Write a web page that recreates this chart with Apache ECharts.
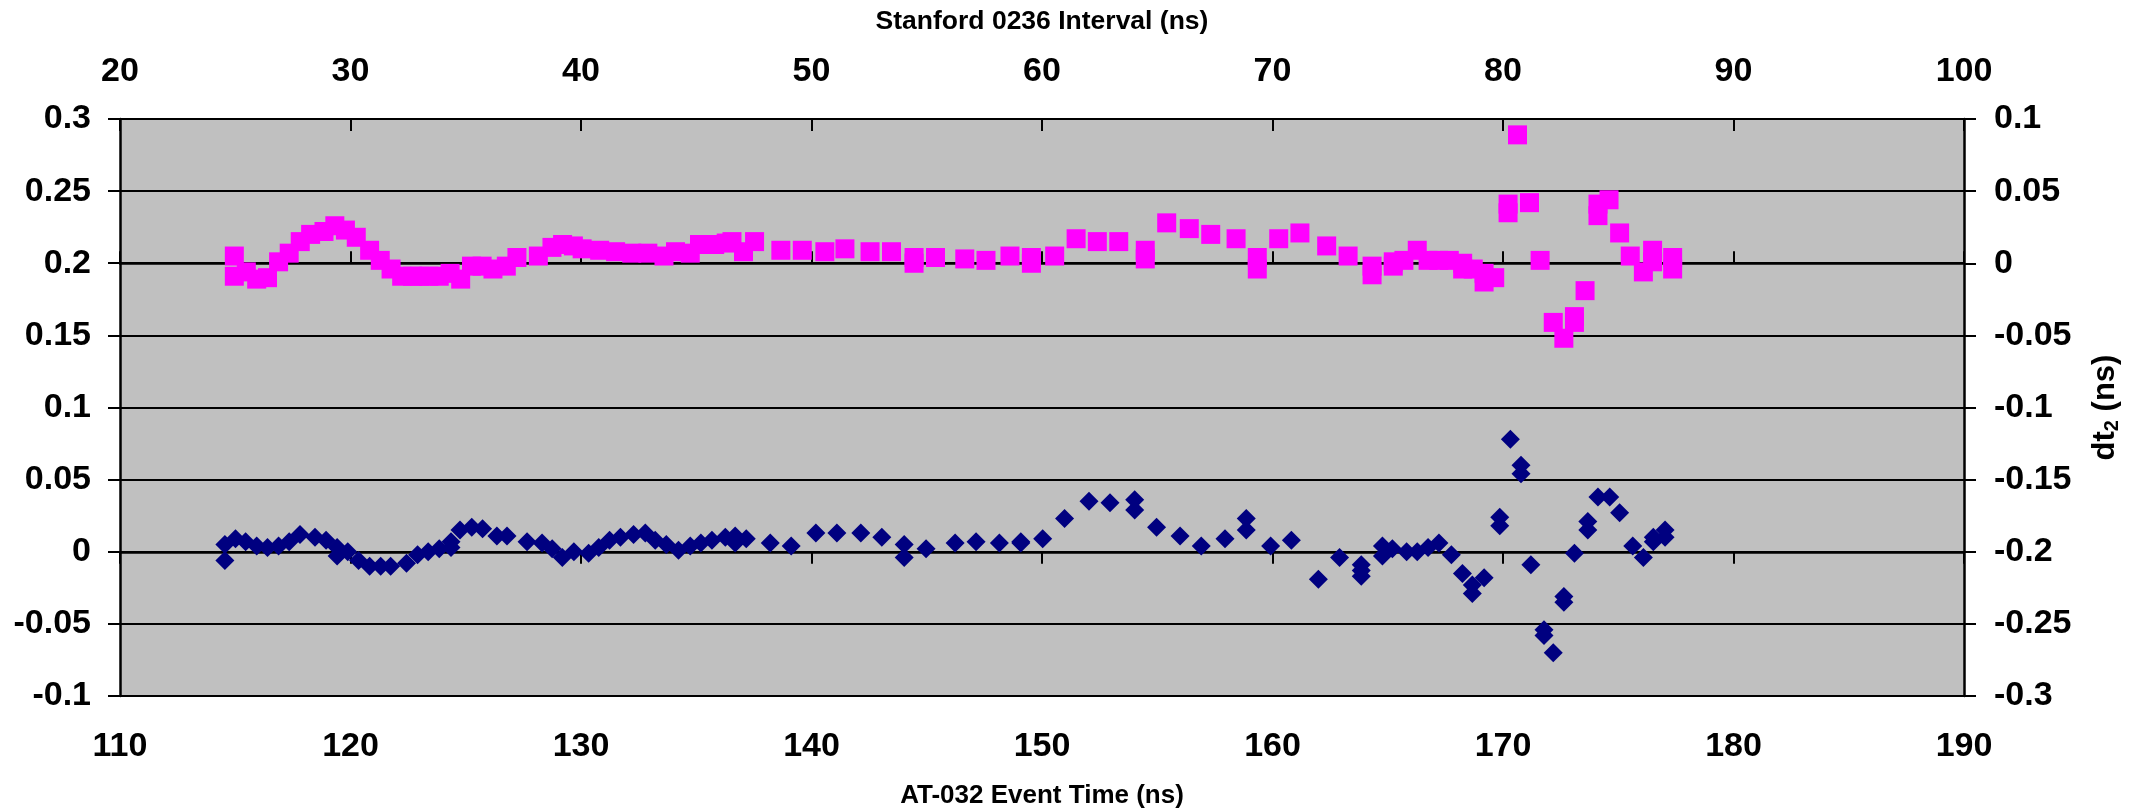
<!DOCTYPE html>
<html>
<head>
<meta charset="utf-8">
<script src="https://cdn.jsdelivr.net/npm/echarts@6/dist/echarts.min.js"></script>
<style>
html,body{margin:0;padding:0;background:#ffffff;}
#chart{width:2136px;height:812px;}
</style>
</head>
<body>
<div id="chart"></div>
<script>
// ---- Data ----
// Blue diamonds: AT-032 Event Time (ns) on bottom axis, left axis values
const blueX = [114.55,114.55,115.01,115.45,115.93,116.40,116.88,117.34,117.81,118.46,118.94,119.42,119.42,119.88,120.35,120.83,121.31,121.74,122.43,122.91,123.37,123.85,124.36,124.36,124.75,125.26,125.73,126.35,126.79,127.66,128.31,128.75,129.19,129.69,
130.33,130.77,131.24,131.71,132.28,132.79,133.22,133.70,134.23,134.74,135.20,135.68,136.26,136.69,136.69,137.17,138.21,139.12,140.19,141.10,142.14,143.05,144.02,144.02,144.97,146.23,147.14,148.15,149.08,149.08,150.03,
150.98,152.04,152.95,154.02,154.02,154.97,155.99,156.91,157.94,158.86,158.86,159.92,160.82,161.99,162.91,163.85,163.85,163.85,164.77,164.77,165.20,165.82,166.28,166.75,167.22,167.76,168.24,168.67,168.67,169.18,169.86,169.86,
170.32,170.78,170.78,171.21,171.78,171.78,172.18,172.64,172.64,173.10,173.68,173.68,174.12,174.63,175.06,175.63,176.09,176.52,176.52,177.03,177.03];
const blueY = [0.005,-0.006,0.009,0.007,0.004,0.003,0.004,0.007,0.012,0.010,0.008,0.003,-0.003,0.000,-0.006,-0.010,-0.010,-0.010,-0.008,-0.002,0.000,0.002,0.007,0.003,0.015,0.017,0.016,0.011,0.011,0.007,0.006,0.002,-0.004,0.000,
-0.001,0.003,0.008,0.010,0.012,0.013,0.008,0.005,0.001,0.004,0.006,0.008,0.010,0.011,0.006,0.009,0.006,0.004,0.013,0.013,0.013,0.010,0.005,-0.004,0.002,0.006,0.007,0.006,0.007,0.006,0.009,
0.023,0.035,0.034,0.036,0.029,0.017,0.011,0.004,0.009,0.023,0.015,0.004,0.008,-0.019,-0.004,-0.009,-0.013,-0.017,0.004,-0.003,0.002,0.000,0.000,0.003,0.006,-0.002,-0.015,-0.023,-0.029,-0.018,0.024,0.018,
0.078,0.060,0.054,-0.009,-0.054,-0.058,-0.070,-0.031,-0.035,-0.001,0.021,0.015,0.038,0.038,0.027,0.004,-0.004,0.010,0.007,0.015,0.010];

// Magenta squares: Stanford 0236 Interval (ns) on top axis, dt2 (ns) on right axis
const magX = [24.96,24.96,25.48,25.93,26.40,26.88,27.34,27.82,28.27,28.85,29.32,29.78,30.25,30.83,31.29,31.76,32.22,32.69,33.01,33.40,33.85,34.32,34.78,35.25,35.71,36.18,36.76,37.22,38.15,38.74,39.20,39.67,
40.05,40.81,41.50,42.20,42.90,43.60,44.10,44.74,45.14,45.80,46.30,46.55,47.05,47.53,48.67,49.60,50.58,51.45,52.54,53.47,54.45,54.45,55.38,56.65,57.57,58.61,59.54,59.54,
60.55,61.48,62.40,63.33,64.48,64.48,65.41,66.39,67.32,68.42,69.34,69.34,70.27,71.19,72.35,73.28,74.32,74.32,75.24,75.24,75.70,76.28,76.75,77.21,77.67,78.25,78.25,78.71,79.18,79.18,79.64,
80.22,80.22,80.63,81.15,81.61,82.18,82.64,83.10,83.10,83.56,84.12,84.12,84.60,85.06,85.52,86.09,86.49,86.49,87.36,87.36];
const magY = [0.005,-0.009,-0.006,-0.011,-0.010,0.001,0.007,0.015,0.020,0.022,0.026,0.023,0.018,0.009,0.002,-0.004,-0.009,-0.009,-0.009,-0.009,-0.009,-0.007,-0.011,-0.002,-0.002,-0.004,-0.002,0.004,0.005,0.011,0.013,0.012,
0.010,0.009,0.008,0.007,0.007,0.005,0.008,0.007,0.013,0.013,0.014,0.015,0.008,0.015,0.009,0.009,0.008,0.010,0.008,0.008,0.004,0.000,0.004,0.003,0.002,0.005,0.004,0.000,
0.005,0.017,0.015,0.015,0.009,0.003,0.028,0.024,0.020,0.017,0.004,-0.004,0.017,0.021,0.012,0.005,-0.002,-0.008,0.001,-0.002,0.002,0.009,0.002,0.002,0.002,0.000,-0.004,-0.004,-0.007,-0.013,-0.010,
0.041,0.035,0.089,0.042,0.002,-0.041,-0.052,-0.037,-0.041,-0.019,0.041,0.033,0.044,0.021,0.005,-0.006,0.009,0.001,0.004,-0.004];

// Axis ranges / tick labels
const bottomAxis = {min: 110, max: 190, interval: 10};
const topAxis = {min: 20, max: 100, interval: 10};
const leftAxis = {min: -0.1, max: 0.3, interval: 0.05};
const rightAxis = {min: -0.3, max: 0.1, interval: 0.05};
const leftTickLabels = ['-0.1','-0.05','0','0.05','0.1','0.15','0.2','0.25','0.3'];
const rightTickLabels = ['-0.3','-0.25','-0.2','-0.15','-0.1','-0.05','0','0.05','0.1'];

const bottomTitle = 'AT-032 Event Time (ns)';
const topTitle = 'Stanford 0236 Interval (ns)';

// ---- Chart ----
const FONT = '"Liberation Sans", Arial, sans-serif';
const chart = echarts.init(document.getElementById('chart'), null, {renderer: 'canvas'});

const tickLabelStyle = {fontFamily: FONT, fontSize: 34, fontWeight: 'bold', color: '#000'};
const axisLineStyle = {show: true, lineStyle: {color: '#000', width: 2.5}};
const tickStyle = {show: true, length: 12, lineStyle: {color: '#000', width: 2}};

function labelFrom(arr, axis) {
  return function (v) {
    const i = Math.round((v - axis.min) / axis.interval);
    return arr[i] !== undefined ? arr[i] : '';
  };
}

const option = {
  animation: false,
  backgroundColor: '#ffffff',
  grid: {
    left: 120, right: 172, top: 119, bottom: 116,
    show: true, backgroundColor: '#c0c0c0', borderWidth: 0,
    containLabel: false, outerBoundsMode: 'none'
  },
  xAxis: [
    {
      type: 'value', position: 'bottom',
      min: bottomAxis.min, max: bottomAxis.max, interval: bottomAxis.interval,
      axisLine: axisLineStyle, axisTick: tickStyle,
      axisLabel: Object.assign({margin: 34}, tickLabelStyle),
      splitLine: {show: false},
      name: bottomTitle, nameLocation: 'middle', nameGap: 87,
      nameTextStyle: {fontFamily: FONT, fontSize: 26, fontWeight: 'bold', color: '#000'}
    },
    {
      type: 'value', position: 'top',
      min: topAxis.min, max: topAxis.max, interval: topAxis.interval,
      axisLine: axisLineStyle, axisTick: tickStyle,
      axisLabel: Object.assign({margin: 30}, tickLabelStyle),
      splitLine: {show: false},
      name: topTitle, nameLocation: 'middle', nameGap: 84,
      nameTextStyle: {fontFamily: FONT, fontSize: 26.5, fontWeight: 'bold', color: '#000'}
    },
    {
      // inner half of the crossing tick marks on the top axis
      type: 'value', position: 'top',
      min: topAxis.min, max: topAxis.max, interval: topAxis.interval,
      axisLine: {show: false},
      axisTick: {show: true, inside: true, length: 12, lineStyle: {color: '#000', width: 2}},
      axisLabel: {show: false}, splitLine: {show: false}
    }
  ],
  yAxis: [
    {
      type: 'value', position: 'left',
      min: leftAxis.min, max: leftAxis.max, interval: leftAxis.interval,
      axisLine: axisLineStyle, axisTick: tickStyle,
      axisLabel: Object.assign({margin: 29, padding: [7, 0, 0, 0], formatter: labelFrom(leftTickLabels, leftAxis)}, tickLabelStyle),
      splitLine: {show: true, lineStyle: {color: '#000', width: 2}}
    },
    {
      type: 'value', position: 'right',
      min: rightAxis.min, max: rightAxis.max, interval: rightAxis.interval,
      axisLine: axisLineStyle, axisTick: tickStyle,
      axisLabel: Object.assign({margin: 30, padding: [7, 0, 0, 0], formatter: labelFrom(rightTickLabels, rightAxis)}, tickLabelStyle),
      splitLine: {show: false},
      name: '{a|dt}{b|2}{a| (ns)}', nameLocation: 'middle', nameGap: 124, nameRotate: 90,
      nameTextStyle: {
        fontFamily: FONT, fontSize: 31, fontWeight: 'bold', color: '#000',
        rich: {
          a: {fontFamily: FONT, fontSize: 31, fontWeight: 'bold', color: '#000', lineHeight: 34},
          b: {fontFamily: FONT, fontSize: 20, fontWeight: 'bold', color: '#000', verticalAlign: 'bottom', lineHeight: 34}
        }
      }
    }
  ],
  series: [
    {
      name: 'AT-032', type: 'scatter', xAxisIndex: 0, yAxisIndex: 0,
      symbol: 'diamond', symbolSize: 19,
      itemStyle: {color: '#000080', opacity: 1},
      data: blueX.map((x, i) => [x, blueY[i]]),
      z: 3
    },
    {
      name: 'Stanford', type: 'scatter', xAxisIndex: 1, yAxisIndex: 1,
      symbol: 'rect', symbolSize: 19,
      itemStyle: {color: '#ff00ff', opacity: 1},
      data: magX.map((x, i) => [x, magY[i]]),
      z: 3
    }
  ]
};
chart.setOption(option);
</script>
</body>
</html>
